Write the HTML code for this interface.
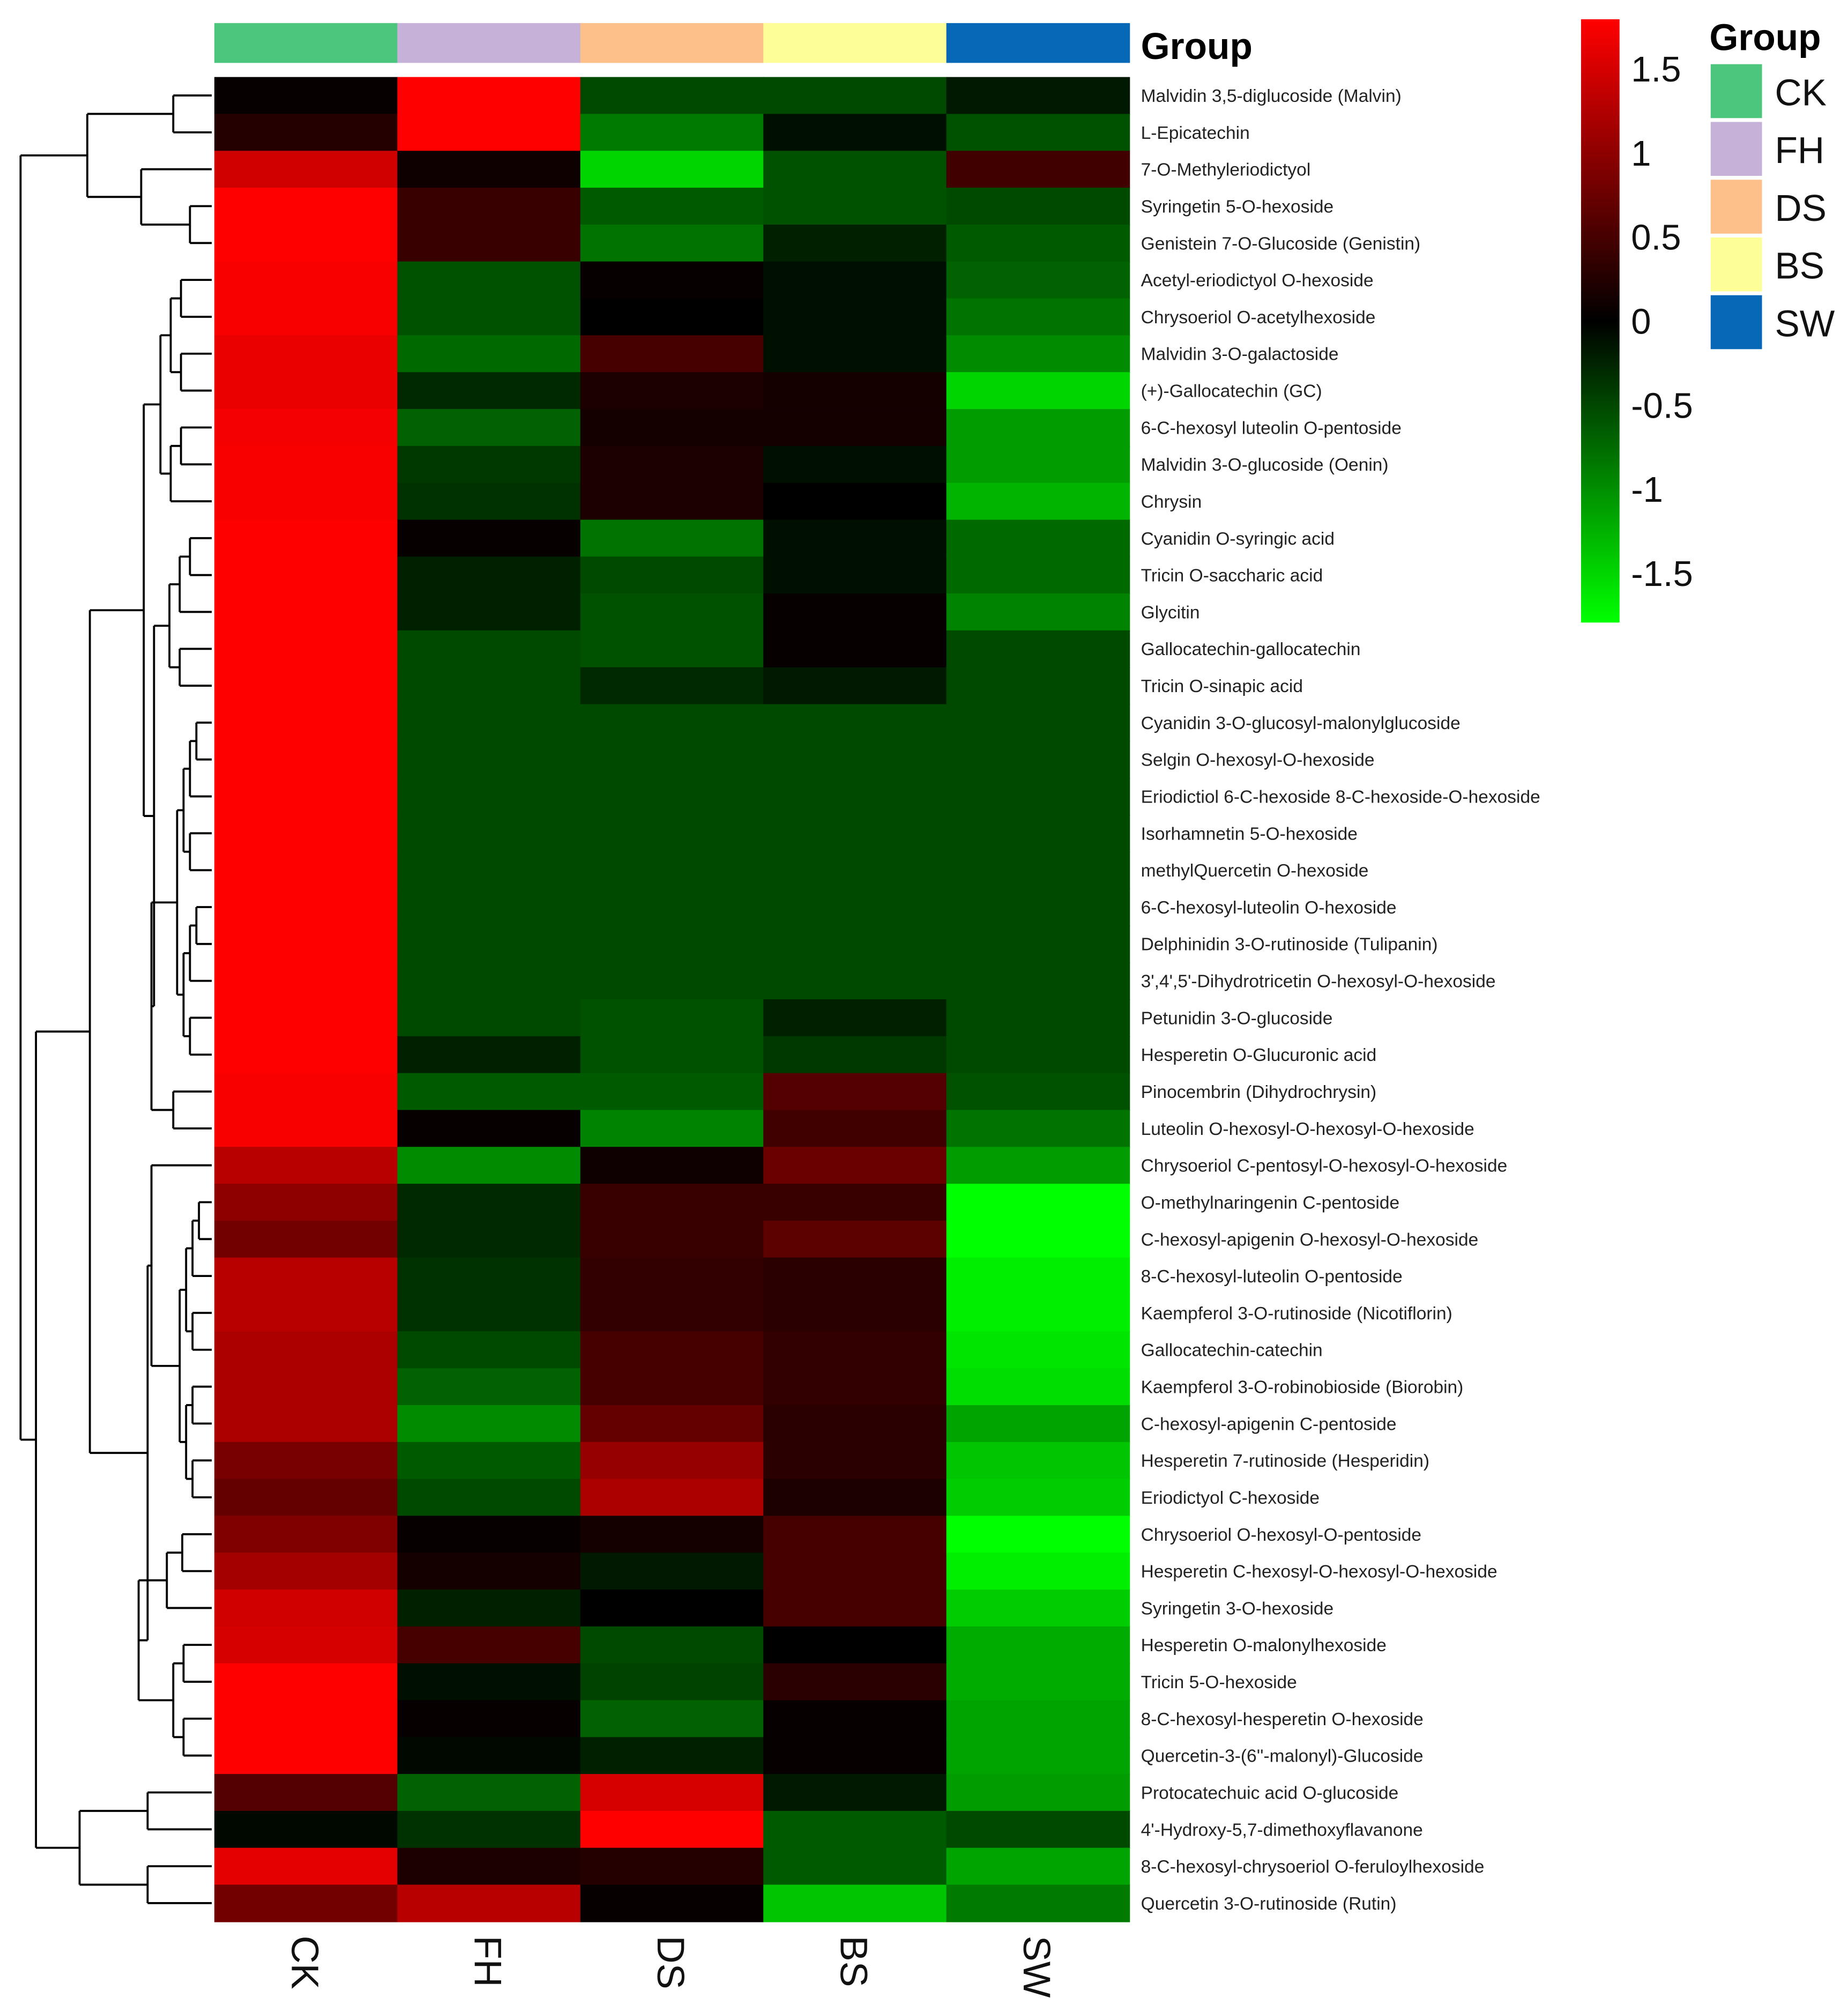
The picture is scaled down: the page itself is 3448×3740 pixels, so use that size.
<!DOCTYPE html>
<html><head><meta charset="utf-8"><style>
html,body{margin:0;padding:0;background:#fff;}
svg{display:block;}
text{font-family:"Liberation Sans",sans-serif;}
</style></head><body>
<svg id="chart" width="3448" height="3740" viewBox="0 0 1440 1562" xmlns="http://www.w3.org/2000/svg">
<g id="dendro" stroke="#000" stroke-width="1.6" fill="none"></g>
<g id="annot"></g>
<g id="cells"></g>
<g id="rowlabels"></g>
<g id="collabels"></g>
<text x="889" y="46" font-size="29" font-weight="bold">Group</text>
<defs><linearGradient id="cg" x1="0" y1="0" x2="0" y2="1">
<stop offset="0" stop-color="#ff0000"/><stop offset="0.5" stop-color="#000000"/><stop offset="1" stop-color="#00ff00"/></linearGradient></defs>
<rect x="1232" y="15" width="30" height="470" fill="url(#cg)"/>
<g id="scaleticks"></g>
<text x="1332" y="39" font-size="29" font-weight="bold">Group</text>
<g id="glegend"></g>
</svg>
<script>
const groups = ["CK","FH","DS","BS","SW"];
const groupColors = ["#4cc67c","#c6b1d9","#fdc08a","#fefe99","#0868b8"];
const scaleTicks = [1.5,1,0.5,0,-0.5,-1,-1.5];
const scaleTickLabels = ["1.5","1","0.5","0","-0.5","-1","-1.5"];
const rowNames = ["Malvidin 3,5-diglucoside (Malvin)","L-Epicatechin","7-O-Methyleriodictyol","Syringetin 5-O-hexoside","Genistein 7-O-Glucoside (Genistin)","Acetyl-eriodictyol O-hexoside","Chrysoeriol O-acetylhexoside","Malvidin 3-O-galactoside","(+)-Gallocatechin (GC)","6-C-hexosyl luteolin O-pentoside","Malvidin 3-O-glucoside (Oenin)","Chrysin","Cyanidin O-syringic acid","Tricin O-saccharic acid","Glycitin","Gallocatechin-gallocatechin","Tricin O-sinapic acid","Cyanidin 3-O-glucosyl-malonylglucoside","Selgin O-hexosyl-O-hexoside","Eriodictiol 6-C-hexoside 8-C-hexoside-O-hexoside","Isorhamnetin 5-O-hexoside","methylQuercetin O-hexoside","6-C-hexosyl-luteolin O-hexoside","Delphinidin 3-O-rutinoside (Tulipanin)","3',4',5'-Dihydrotricetin O-hexosyl-O-hexoside","Petunidin 3-O-glucoside","Hesperetin O-Glucuronic acid","Pinocembrin (Dihydrochrysin)","Luteolin O-hexosyl-O-hexosyl-O-hexoside","Chrysoeriol C-pentosyl-O-hexosyl-O-hexoside","O-methylnaringenin C-pentoside","C-hexosyl-apigenin O-hexosyl-O-hexoside","8-C-hexosyl-luteolin O-pentoside","Kaempferol 3-O-rutinoside (Nicotiflorin)","Gallocatechin-catechin","Kaempferol 3-O-robinobioside (Biorobin)","C-hexosyl-apigenin C-pentoside","Hesperetin 7-rutinoside (Hesperidin)","Eriodictyol C-hexoside","Chrysoeriol O-hexosyl-O-pentoside","Hesperetin C-hexosyl-O-hexosyl-O-hexoside","Syringetin 3-O-hexoside","Hesperetin O-malonylhexoside","Tricin 5-O-hexoside","8-C-hexosyl-hesperetin O-hexoside","Quercetin-3-(6''-malonyl)-Glucoside","Protocatechuic acid O-glucoside","4'-Hydroxy-5,7-dimethoxyflavanone","8-C-hexosyl-chrysoeriol O-feruloylhexoside","Quercetin 3-O-rutinoside (Rutin)"];
const valCK = [0.05,0.25,1.45,1.79,1.79,1.75,1.75,1.65,1.65,1.72,1.75,1.75,1.79,1.79,1.79,1.79,1.79,1.79,1.79,1.79,1.79,1.79,1.79,1.79,1.79,1.79,1.79,1.75,1.75,1.3,1.0,0.8,1.3,1.3,1.2,1.2,1.2,0.85,0.7,0.9,1.15,1.45,1.5,1.79,1.79,1.79,0.6,-0.05,1.6,0.8];
const valFH = [1.79,1.79,0.1,0.4,0.4,-0.5,-0.5,-0.65,-0.25,-0.6,-0.35,-0.3,0.05,-0.2,-0.2,-0.45,-0.45,-0.45,-0.45,-0.45,-0.45,-0.45,-0.45,-0.45,-0.45,-0.45,-0.2,-0.55,0.05,-0.85,-0.25,-0.25,-0.3,-0.3,-0.45,-0.6,-0.85,-0.55,-0.45,0.05,0.15,-0.2,0.5,-0.1,0.05,-0.05,-0.6,-0.3,0.2,1.3];
const valDS = [-0.45,-0.75,-1.3,-0.55,-0.7,0.05,0.0,0.5,0.2,0.15,0.2,0.2,-0.7,-0.45,-0.5,-0.5,-0.25,-0.45,-0.45,-0.45,-0.45,-0.45,-0.45,-0.45,-0.45,-0.5,-0.5,-0.55,-0.8,0.1,0.4,0.4,0.35,0.35,0.5,0.5,0.7,1.05,1.2,0.15,-0.15,0.0,-0.45,-0.4,-0.6,-0.2,1.5,1.79,0.25,0.05];
const valBS = [-0.45,-0.1,-0.5,-0.5,-0.2,-0.1,-0.1,-0.1,0.15,0.15,-0.1,0.0,-0.1,-0.1,0.05,0.05,-0.15,-0.45,-0.45,-0.45,-0.45,-0.45,-0.45,-0.45,-0.45,-0.2,-0.35,0.6,0.45,0.75,0.4,0.65,0.3,0.3,0.35,0.35,0.3,0.3,0.2,0.5,0.5,0.5,0.0,0.3,0.05,0.05,-0.15,-0.55,-0.55,-1.2];
const valSW = [-0.15,-0.5,0.45,-0.45,-0.55,-0.6,-0.7,-0.85,-1.3,-0.95,-0.95,-1.1,-0.65,-0.65,-0.8,-0.45,-0.45,-0.45,-0.45,-0.45,-0.45,-0.45,-0.45,-0.45,-0.45,-0.45,-0.45,-0.5,-0.7,-0.95,-1.6,-1.6,-1.45,-1.45,-1.4,-1.35,-1.0,-1.2,-1.25,-1.75,-1.45,-1.25,-1.05,-1.05,-1.0,-1.0,-0.95,-0.45,-1.0,-0.75];
const series = [valCK,valFH,valDS,valBS,valSW];

const NS = "http://www.w3.org/2000/svg";
const X0=167, colW=142.6, Y0=60, rowH=28.74, VMAX=1.79;
const colX = i => X0 + i*colW;
const rowY = r => Y0 + r*rowH;
function color(v){
  const t=Math.min(1,Math.abs(v)/VMAX);
  if(v>=0) return `rgb(${Math.round(255*t)},0,0)`;
  return `rgb(0,${Math.round(Math.min(255,255*t*1.15))},0)`;
}
function mk(tag, attrs, parent){const e=document.createElementNS(NS,tag);for(const k in attrs)e.setAttribute(k,attrs[k]);parent.appendChild(e);return e;}

const annot=document.getElementById('annot');
groups.forEach((g,i)=>{
  const r=mk('rect',{x:colX(i),y:18,width:colW+0.5,height:31,fill:groupColors[i]},annot);
  
  
});
const cells=document.getElementById('cells');
series.forEach((vals,c)=>{
  vals.forEach((v,r)=>{
    const e=mk('rect',{x:colX(c),y:rowY(r),width:colW+0.5,height:rowH+0.5,fill:color(v)},cells);
    
    
  });
});
const rl=document.getElementById('rowlabels');
rowNames.forEach((n,r)=>{
  const t=mk('text',{x:889,y:rowY(r)+rowH/2+5,'font-size':14,fill:'#222'},rl);
  t.textContent=n;
  
  
});
const cl=document.getElementById('collabels');
groups.forEach((g,i)=>{
  const cx=colX(i)+colW/2;
  const t=mk('text',{x:0,y:0,'font-size':30,fill:'#111',transform:`translate(${cx-11},1508) rotate(90)`},cl);
  t.textContent=g;
  
  
});
const st=document.getElementById('scaleticks');
scaleTicks.forEach((v,i)=>{
  const y=250 - v*131;
  const t=mk('text',{x:1271,y:y+10,'font-size':28,fill:'#111'},st);
  t.textContent=scaleTickLabels[i];
  
  
});
const gl=document.getElementById('glegend');
groups.forEach((g,i)=>{
  const y=50+i*45;
  const r=mk('rect',{x:1333,y:y,width:40,height:42,fill:groupColors[i]},gl);
  
  
  const t=mk('text',{x:1383,y:y+32,'font-size':29,fill:'#111'},gl);
  t.textContent=g;
  
  
});

function build(lo,hi,h,step){
  if(lo===hi) return lo;
  const mid=Math.floor((lo+hi)/2);
  const nh=Math.min(158,h+step);
  return {h:h,c:[build(lo,mid,nh,step),build(mid+1,hi,nh,step)]};
}
const LEAFX=165;
const tree={h:16,c:[
  {h:68,c:[{h:135,c:[0,1]},{h:110,c:[2,{h:148,c:[3,4]}]}]},
  {h:28,c:[
    {h:70,c:[
      {h:112,c:[build(5,11,125,8),{h:120,c:[build(12,16,132,8),{h:118,c:[build(17,26,138,5),{h:135,c:[27,28]}]}]}]},
      {h:115,c:[{h:118,c:[29,build(30,38,140,5)]},{h:108,c:[build(39,41,130,12),build(42,45,135,8)]}]}
    ]},
    {h:62,c:[{h:115,c:[46,47]},{h:115,c:[48,49]}]}
  ]}
]};
const dg=document.getElementById('dendro');
function draw(n){
  if(typeof n==='number') return {x:LEAFX,y:rowY(n)+rowH/2};
  const p=n.c.map(draw);
  const ys=p.map(q=>q.y);
  mk('line',{x1:n.h,y1:Math.min(...ys),x2:n.h,y2:Math.max(...ys)},dg);
  p.forEach(q=>mk('line',{x1:n.h,y1:q.y,x2:q.x,y2:q.y},dg));
  return {x:n.h,y:(Math.min(...ys)+Math.max(...ys))/2};
}
draw(tree);
</script>
</body></html>
